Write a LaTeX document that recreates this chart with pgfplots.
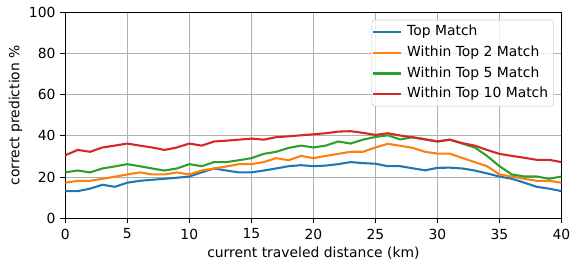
\documentclass[border=0pt]{standalone}
\usepackage{fontspec}
\setmainfont{DejaVu Sans}
\usepackage{pgfplots}
\pgfplotsset{compat=1.18}
\usepackage{pgfplotstable}
\definecolor{c1}{HTML}{1F77B4}
\definecolor{c2}{HTML}{FF7F0E}
\definecolor{c3}{HTML}{2CA02C}
\definecolor{c4}{HTML}{D62728}
\definecolor{gridc}{HTML}{B0B0B0}
\pgfplotstableread{
x a b c d
0 13.2 17.3 22.3 30.6
1 13.2 18.2 23.2 33.2
2 14.4 18.2 22.3 32.3
3 16.3 19.2 24.2 34.4
4 15.3 20.2 25.2 35.3
5 17.3 21.3 26.3 36.3
6 18.2 22.3 25.3 35.3
7 18.7 21.3 24.2 34.4
8 19.2 21.3 23.2 33.2
9 19.7 22.3 24.2 34.4
10 20.3 21.3 26.3 36.3
11 22.3 23.2 25.3 35.3
12 24.2 24.2 27.3 37.3
13 23.2 25.2 27.3 37.7
14 22.3 26.3 28.2 38.2
15 22.3 26.3 29.2 38.7
16 23.2 27.3 31.3 38.2
17 24.2 29.2 32.3 39.4
18 25.3 28.2 34.2 39.8
19 25.8 30.3 35.3 40.3
20 25.3 29.2 34.4 40.8
21 25.6 30.3 35.3 41.3
22 26.3 31.3 37.3 42.1
23 27.3 32.3 36.3 42.3
24 26.8 32.3 38.2 41.5
25 26.5 34.4 39.5 40.5
26 25.3 36.2 40.3 41.3
27 25.3 35.2 38.3 40.2
28 24.3 34.2 39.4 39.3
29 23.3 32.3 38.4 38.3
30 24.5 31.4 37.3 37.3
31 24.6 31.4 38.2 38.2
32 24.2 29.3 36.3 36.5
33 23.2 27.3 34.4 35.3
34 21.8 25.3 30.3 33.2
35 20.3 21.3 25.3 31.3
36 19.2 20.3 21.3 30.3
37 17.3 19.2 20.3 29.4
38 15.3 18.2 20.3 28.4
39 14.4 18.2 19.2 28.4
40 13.2 17.3 20.3 27.3
}\datatable
\begin{document}
\begin{tikzpicture}
\begin{axis}[
  name=ax,
  scale only axis,
  width=357.3pt, height=148.3pt,
  xmin=0, xmax=40, ymin=0, ymax=100,
  xtick={0,5,...,40}, ytick={0,20,...,100},
  tick pos=left,
  tick align=outside,
  major tick length=3.5pt,
  axis line style={line width=0.8pt},
  every tick/.style={black, line width=0.8pt},
  grid=major,
  major grid style={gridc, line width=0.8pt},
  /pgf/number format/assume math mode=true,
  ticklabel style={font=\fontsize{10}{12}\selectfont},
  xticklabel style={yshift=-0.5pt},
  label style={font=\fontsize{10}{12}\selectfont},
  xlabel={current traveled distance (km)},
  ylabel={correct prediction \%},
  xlabel style={yshift=1pt},
  ylabel style={yshift=-2pt},
  legend cell align=left,
  legend image code/.code={\draw[#1] (0pt,0pt) -- (20pt,0pt);},
  legend style={
    at={([xshift=-5.4pt,yshift=-5.3pt]rel axis cs:1,1)}, anchor=north east,
    draw=black!20, rounded corners=2pt, fill=white, fill opacity=0.8, text opacity=1,
    font=\fontsize{10}{12}\selectfont,
    inner xsep=0pt, inner ysep=1pt,
    nodes={inner xsep=4pt, inner ysep=2.7pt, text height=7.4pt, text depth=2.2pt},
  },
  every axis plot/.append style={line width=1.5pt, line join=round},
]
\addplot[c1, no marks] table[x=x, y=a] {\datatable};
\addlegendentry{Top Match}
\addplot[c2, no marks] table[x=x, y=b] {\datatable};
\addlegendentry{Within Top 2 Match}
\addplot[c3, no marks] table[x=x, y=c] {\datatable};
\addlegendentry{Within Top 5 Match}
\addplot[c4, no marks] table[x=x, y=d] {\datatable};
\addlegendentry{Within Top 10 Match}
\end{axis}
\pgfresetboundingbox
\path[use as bounding box] ([shift={(-47pt,-37.2pt)}]ax.south west) rectangle ([shift={(11.9pt,8.9pt)}]ax.north east);
\end{tikzpicture}
\end{document}
